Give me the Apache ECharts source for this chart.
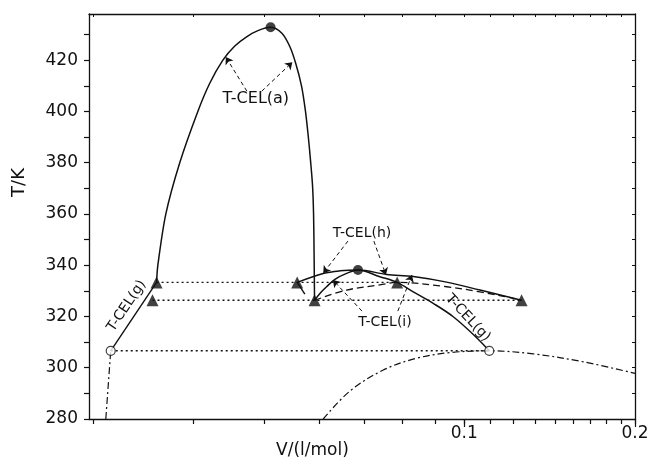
<!DOCTYPE html>
<html><head><meta charset="utf-8">
<script src="https://cdn.jsdelivr.net/npm/echarts@6/dist/echarts.min.js"></script>
<style>html,body{margin:0;padding:0;background:#fff}#c{width:654px;height:461px}</style>
</head><body><div id="c"></div>
<script>
// ---- axis ranges & ticks ----
const X_MIN = 0.0218, X_MAX = 0.2, Y_MIN = 280, Y_MAX = 438;
const xTickLabels = [0.1, 0.2];
const xTicks = [0.0222,0.0333,0.0444,0.0556,0.0667,0.0778,0.0889,0.1,0.1111,0.1222,0.1333,0.1444,0.1556,0.1667,0.1778,0.1889,0.2];
const yTickLabels = [280,300,320,340,360,380,400,420];
const yTicks = [280,290,300,310,320,330,340,350,360,370,380,390,400,410,420,430];

// ---- data (V in l/mol, T in K) ----
const domeA = [[0.02868,333.3],[0.02883,340],[0.02978,360],[0.03151,380],[0.03391,400],[0.03559,411],[0.03754,420.0],[0.03940,425.5],[0.04133,429.1],[0.04327,431.5],[0.04556,432.8],[0.04770,430.5],[0.04928,425.2],[0.05049,418.5],[0.05166,409.9],[0.05246,400.5],[0.05306,390.8],[0.05357,381],[0.05401,371.3],[0.05424,360.3],[0.05435,345.9],[0.05446,326.3]];
const leftG = [[0.02381,306.6],[0.02868,333.3]];
const leftDashDot = [[0.02334,280],[0.02381,306.6]];
const tieUpper = [[0.02868,333.3],[0.07616,333.3]];
const tieLower = [[0.02821,326.3],[0.1262,326.3]];
const tieOpen = [[0.02381,306.6],[0.1107,306.6]];
const curveH = [[0.05075,333.3],[0.05641,336.8],[0.06036,337.8],[0.06496,338.1],[0.07298,336.4],[0.0813,335.6],[0.09311,333.4],[0.1066,330.3],[0.1262,326.3]];
const curveIG = [[0.05446,326.3],[0.05566,329.0],[0.05719,331.6],[0.05916,334.5],[0.06203,336.8],[0.06496,338.1],[0.07101,335.5],[0.07616,333.3],[0.0813,329.6],[0.08817,325.1],[0.09563,319.9],[0.1044,312.4],[0.1107,306.6]];
const curveDashed = [[0.05446,326.3],[0.06203,330.3],[0.07101,332.3],[0.07616,333.3],[0.09311,331.6],[0.1066,329.6],[0.122,327.1],[0.1262,326.3]];
const shortStroke = [[0.05075,333.3],[0.05236,328.75]];
const rightDashDot = [[0.0564,280],[0.06287,290.9],[0.07198,299.1],[0.08243,303.7],[0.09436,305.9],[0.1107,306.6],[0.1323,305.4],[0.1622,302.3],[0.2,297.8]];
const trianglePts = [[0.02868,333.3],[0.02821,326.3],[0.05075,333.3],[0.05446,326.3],[0.07616,333.3],[0.1262,326.3]];
const filledCircles = [[0.04556,432.8],[0.06496,338.1]];
const openCircles = [[0.02381,306.6],[0.1107,306.6]];

// ---- annotations (data coordinates) ----
const annoTexts = [
  {text:'T-CEL(a)', at:[0.04291,404.8], rot:0, size:16},
  {text:'T-CEL(h)', at:[0.06602,352.5], rot:0, size:14},
  {text:'T-CEL(i)', at:[0.07247,317.8], rot:0, size:14},
  {text:'T-CEL(g)', at:[0.02541,324.1], rot:56, size:14},
  {text:'T-CEL(g)', at:[0.1015,319.4], rot:-47, size:14}
];
const annoArrows = [
  [[0.04138,407.9],[0.03799,421.2]],
  [[0.04396,407.9],[0.04977,419.2]],
  [[0.06236,349.4],[0.05641,336.9]],
  [[0.06929,349.4],[0.07276,336.2]],
  [[0.06602,322.1],[0.05867,334.2]],
  [[0.07637,322.1],[0.08088,336.2]]
];

const FONT = 'DejaVu Sans';
const INK = '#111';

function line(data, type, width, smooth) {
  return {type:'line', data:data, showSymbol:false, symbol:'none', smooth:smooth||false,
    lineStyle:{color:INK, width:width||1.4, type:type||'solid'}, silent:true, z:2};
}

const series = [
  line(domeA,'solid',1.5,0.3),
  line(leftG,'solid',1.4),
  line(leftDashDot,[7,3,2,3],1.2),
  line(tieUpper,[2,3],1.4),
  line(tieLower,[2,3],1.4),
  line(tieOpen,[2,3],1.4),
  line(curveH,'solid',1.5,0.35),
  line(curveIG,'solid',1.5,0.35),
  line(curveDashed,[7,4],1.3,0.35),
  line(shortStroke,'solid',1.4),
  line(rightDashDot,[7,3,2,3],1.2,0.35),
  {type:'scatter', data:trianglePts, symbol:'triangle', symbolSize:12, itemStyle:{color:INK}, z:5, silent:true},
  {type:'scatter', data:filledCircles, symbol:'circle', symbolSize:10, itemStyle:{color:INK}, z:5, silent:true},
  {type:'scatter', data:openCircles, symbol:'circle', symbolSize:9, itemStyle:{color:'#fff', borderColor:INK, borderWidth:1.2}, z:5, silent:true},
  {type:'line', data:[], silent:true,
    markLine:{silent:true, animation:false, symbol:['none','arrow'], symbolSize:7, label:{show:false},
      lineStyle:{color:INK, width:1, type:[4,3]},
      emphasis:{disabled:true},
      data: annoArrows.map(a => [{coord:a[0]},{coord:a[1]}])}}
];

const option = {
  animation:false,
  backgroundColor:'#fff',
  grid:{left:89, right:19, top:14, bottom:42, containLabel:false},
  xAxis:[
    {type:'log', logBase:10, min:X_MIN, max:X_MAX, position:'bottom',
      axisLine:{show:true, lineStyle:{color:INK, width:1.3}},
      axisTick:{show:true, customValues:xTicks, length:5, lineStyle:{color:INK, width:1.2}},
      axisLabel:{show:false}, splitLine:{show:false}},
    {type:'log', logBase:10, min:X_MIN, max:X_MAX, position:'bottom',
      axisLine:{show:false},
      axisTick:{show:true, customValues:xTickLabels, length:8, lineStyle:{color:INK, width:1.2}},
      axisLabel:{show:true, customValues:xTickLabels, formatter:v=>String(v), fontFamily:FONT, fontSize:17, color:INK, margin:6},
      splitLine:{show:false}},
    {type:'log', logBase:10, min:X_MIN, max:X_MAX, position:'top',
      axisLine:{show:true, lineStyle:{color:INK, width:1.3}},
      axisTick:{show:true, inside:true, customValues:xTicks, length:3, lineStyle:{color:INK, width:1}},
      axisLabel:{show:false}, splitLine:{show:false}}
  ],
  yAxis:[
    {type:'value', min:Y_MIN, max:Y_MAX, position:'left',
      axisLine:{show:true, lineStyle:{color:INK, width:1.3}},
      axisTick:{show:true, customValues:yTicks, length:5, lineStyle:{color:INK, width:1.2}},
      axisLabel:{show:true, customValues:yTickLabels, fontFamily:FONT, fontSize:17, color:INK, margin:11},
      splitLine:{show:false}},
    {type:'value', min:Y_MIN, max:Y_MAX, position:'right',
      axisLine:{show:true, lineStyle:{color:INK, width:1.3}},
      axisTick:{show:true, inside:true, customValues:yTicks, length:3, lineStyle:{color:INK, width:1}},
      axisLabel:{show:false}, splitLine:{show:false}}
  ],
  series:series
};

const chart = echarts.init(document.getElementById('c'));
chart.setOption(option);

const toPx = p => chart.convertToPixel({xAxisIndex:0, yAxisIndex:0}, p);
const graphics = annoTexts.map(a => {
  const p = toPx(a.at);
  return {type:'text', x:p[0], y:p[1], rotation:a.rot*Math.PI/180, z:10,
    style:{text:a.text, fontFamily:FONT, fontSize:a.size, fill:INK, align:'center', verticalAlign:'middle'}};
});
graphics.push({type:'text', x:19, y:182.5, rotation:Math.PI/2, z:10,
  style:{text:'T/K', fontFamily:FONT, fontSize:18, fill:INK, align:'center', verticalAlign:'middle'}});
graphics.push({type:'text', x:312.5, y:451, z:10,
  style:{text:'V/(l/mol)', fontFamily:FONT, fontSize:17, fill:INK, align:'center', verticalAlign:'middle'}});
chart.setOption({graphic:graphics});
</script>
</body></html>
